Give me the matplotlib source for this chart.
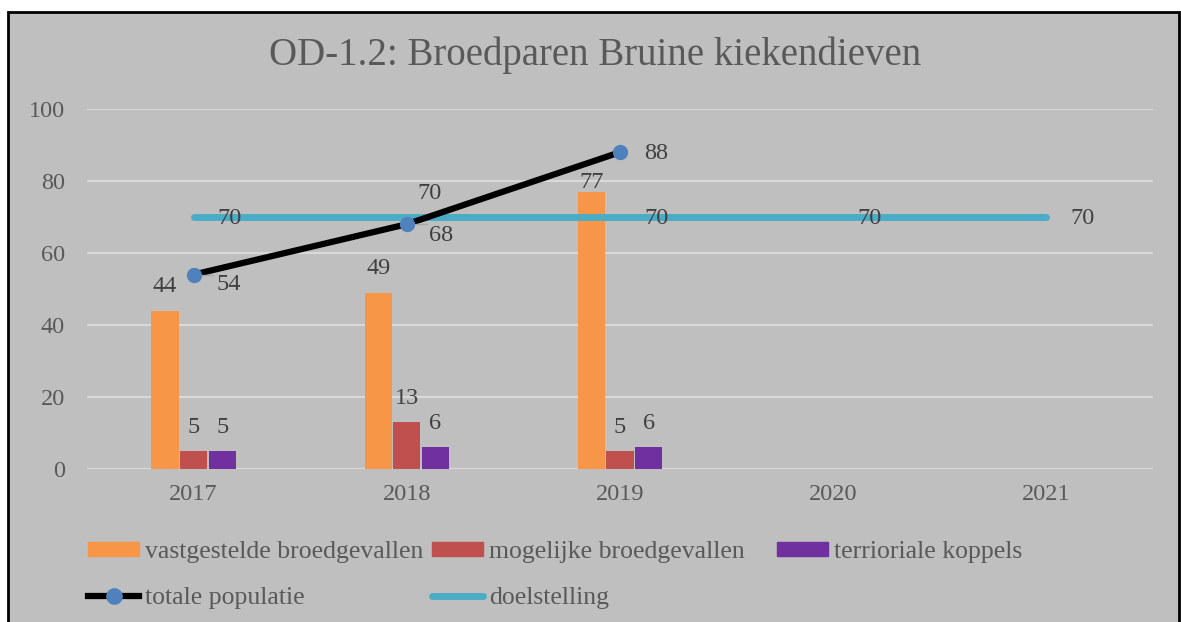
import matplotlib
matplotlib.use("Agg")
from matplotlib import pyplot as plt
from matplotlib import font_manager
from matplotlib.patches import Rectangle, Patch
from matplotlib.lines import Line2D
import numpy as np


def pick(names):
    for n in names:
        try:
            font_manager.findfont(n, fallback_to_default=False)
            return n
        except Exception:
            pass
    return "DejaVu Serif"


serif = pick(["Liberation Serif", "DejaVu Serif"])

# data
years = ["2017", "2018", "2019", "2020", "2021"]
vastgesteld = [44, 49, 77]
mogelijk = [5, 13, 5]
territoriaal = [5, 6, 6]
totaal = [54, 68, 88]
doel = [70, 70, 70, 70, 70]

labels = ["vastgestelde broedgevallen", "mogelijke broedgevallen",
          "terrioriale koppels", "totale populatie", "doelstelling"]

W, H = 1181, 622
fig = plt.figure(figsize=(W / 100, H / 100), dpi=100)
fig.patch.set_facecolor("white")
fig.add_artist(Rectangle((8 / W, -0.05), (1179 - 8) / W, 1 - 12 / H + 0.05,
                         transform=fig.transFigure, facecolor="#BFBFBF",
                         edgecolor="black", linewidth=2, zorder=-5))

ax = fig.add_axes([87 / W, 1 - 469 / H, (1153 - 87) / W, (469 - 109) / H])
ax.set_facecolor("none")
for s in ax.spines.values():
    s.set_visible(False)

x = np.arange(len(years))
n = len(vastgesteld)
width = 0.127
off = 0.134

ax.bar(x[:n] - off, vastgesteld, width, color="#F79646", zorder=3)
ax.bar(x[:n], mogelijk, width, color="#C0504D", zorder=3)
ax.bar(x[:n] + off, territoriaal, width, color="#7030A0", zorder=3)

ax.plot(x, doel, color="#4BACC6", lw=5, solid_capstyle="round", zorder=4)
ax.plot(x[:n], totaal, color="black", lw=4.5, zorder=5)
ax.plot(x[:n], totaal, "o", color="#4F81BD", ms=10, zorder=6)

ax.set_xlim(-0.5, 4.5)
ax.set_ylim(0, 100)
ax.set_yticks(range(0, 101, 20))
ax.set_xticks(x)
ax.set_xticklabels(years)
ax.grid(axis="y", color="#D9D9D9", lw=1.5, zorder=0)
ax.tick_params(length=0, labelsize=17.5, labelcolor="#595959")
ax.tick_params(axis="y", pad=16)
ax.tick_params(axis="x", pad=11)
for t in ax.get_xticklabels() + ax.get_yticklabels():
    t.set_family(serif)

lab = dict(fontsize=17.5, color="#404040", family=serif, ha="center", va="center",
           textcoords="offset points", zorder=7)

# bar labels (the 2019 one sits lower, just on top of its bar)
for vals, dx in [(vastgesteld, -off), (mogelijk, 0), (territoriaal, off)]:
    for i, v in enumerate(vals):
        dy = 7 if (vals is vastgesteld and i == 2) else 17
        ax.annotate(str(v), (x[i] + dx, v), xytext=(0, dy), **lab)

# doelstelling labels
for i, v in enumerate(doel):
    if i == 1:
        ax.annotate(str(v), (x[i], v), xytext=(16, 17), **lab)
    else:
        ax.annotate(str(v), (x[i], v), xytext=(26, -1), **lab)

# totale populatie labels with small leader lines
lead = dict(arrowstyle="-", color="#A6A6A6", lw=1, shrinkA=0, shrinkB=6,
            connectionstyle="angle,angleA=90,angleB=0")
ax.annotate(str(totaal[0]), (x[0], totaal[0]), xytext=(25, -7),
            arrowprops=lead, **lab)
ax.annotate(str(totaal[1]), (x[1], totaal[1]), xytext=(25, -8),
            arrowprops=lead, **lab)
ax.annotate(str(totaal[2]), (x[2], totaal[2]), xytext=(26, -1), **lab)

fig.text(0.504, 1 - 55 / H, "OD-1.2: Broedparen Bruine kiekendieven",
         ha="center", va="center", fontsize=28, color="#595959", family=serif)

# legend entries laid out like the original (3 columns, 2 rows)
handles = [Patch(color="#F79646"), Patch(color="#C0504D"), Patch(color="#7030A0"),
           Line2D([], [], color="black", lw=4.5, marker="o", ms=11,
                  markerfacecolor="#4F81BD", markeredgecolor="#4F81BD"),
           Line2D([], [], color="#4BACC6", lw=5, solid_capstyle="round")]
pos = [(88, 552), (432, 552), (777, 552), (88, 598), (432, 598)]
for h, l, (px, py) in zip(handles, labels, pos):
    leg = fig.legend([h], [l], loc="center left",
                     bbox_to_anchor=(px / W, 1 - py / H), frameon=False,
                     borderpad=0, borderaxespad=0, handlelength=2.0,
                     handleheight=0.5, handletextpad=0.22, numpoints=1,
                     prop={"family": serif, "size": 18.5})
    for t in leg.get_texts():
        t.set_color("#595959")

fig.savefig("out.png", dpi=100, facecolor=fig.get_facecolor())
